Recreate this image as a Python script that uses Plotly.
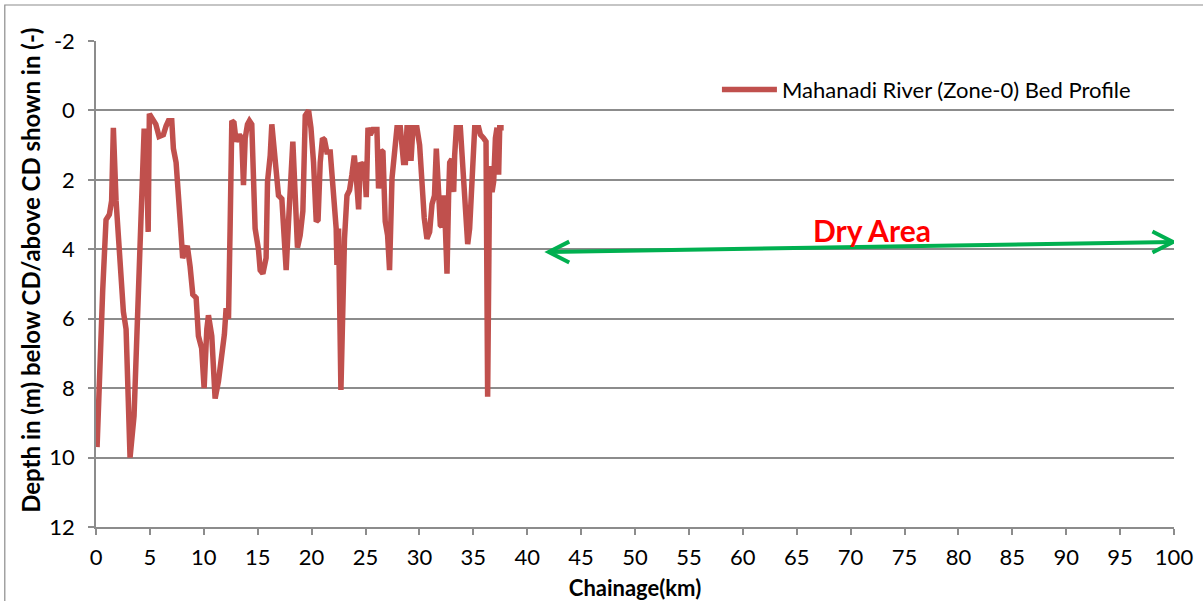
import plotly.graph_objects as go

# Bed profile of the Mahanadi River, Zone-0
chainage_km = [
    0.1, 0.37, 0.62, 0.93, 1.24, 1.45, 1.61, 1.86, 2.23, 2.54, 2.79, 3.16, 3.53, 3.78,
    4.02, 4.24, 4.46, 4.62, 4.84, 4.95, 5.32, 5.55, 5.85, 6.25, 6.5, 6.72, 7.03, 7.18,
    7.43, 7.64, 7.86, 8.04, 8.24, 8.47, 8.73, 8.98, 9.29, 9.5, 9.8, 10.03, 10.28, 10.43,
    10.74, 11.05, 11.36, 11.67, 11.91, 12.07, 12.29, 12.44, 12.6, 12.8, 13.0, 13.3,
    13.52, 13.68, 13.84, 14.05, 14.23, 14.45, 14.6, 14.76, 15.07, 15.23, 15.48, 15.78,
    15.91, 16.16, 16.31, 16.5, 16.78, 16.93, 17.24, 17.39, 17.64, 17.86, 18.01, 18.26,
    18.48, 18.69, 18.94, 19.19, 19.41, 19.72, 19.94, 20.18, 20.43, 20.6, 20.8, 21.01,
    21.2, 21.42, 21.73, 21.88, 22.1, 22.28, 22.35, 22.5, 22.72, 22.9, 23.05, 23.28,
    23.52, 23.74, 23.96, 24.15, 24.36, 24.51, 24.7, 24.88, 25.07, 25.23, 25.44, 25.69,
    26.06, 26.21, 26.43, 26.62, 26.83, 27.05, 27.23, 27.46, 27.67, 27.92, 28.23, 28.53,
    28.7, 28.85, 29.05, 29.22, 29.4, 29.77, 30.02, 30.24, 30.45, 30.7, 30.95, 31.17,
    31.4, 31.57, 31.78, 31.94, 32.09, 32.25, 32.4, 32.56, 32.71, 32.81, 33.0, 33.18,
    33.27, 33.43, 33.8, 34.04, 34.26, 34.48, 34.66, 34.79, 34.97, 35.13, 35.5, 35.66,
    35.96, 36.18, 36.33, 36.52, 36.74, 36.89, 37.05, 37.2, 37.35, 37.45, 37.82,
]
depth_m = [
    9.7, 7.05, 5.2, 3.15, 3.0, 2.6, 0.5, 2.6, 4.2, 5.8, 6.3, 10.0, 8.8, 6.8,
    4.4, 2.4, 0.6, 0.6, 3.5, 0.1, 0.3, 0.4, 0.75, 0.7, 0.45, 0.3, 0.3, 1.1,
    1.5, 2.7, 3.4, 4.25, 4.05, 3.9, 4.5, 5.3, 5.4, 6.5, 6.85, 8.0, 6.3, 5.9,
    6.5, 8.3, 7.8, 7.05, 6.45, 5.7, 6.0, 3.4, 0.3, 0.35, 0.9, 0.7,
    0.8, 2.15, 0.8, 0.4, 0.3, 0.4, 2.0, 3.4, 4.0, 4.6, 4.7, 4.25,
    2.05, 1.3, 0.4, 1.0, 1.75, 2.45, 2.55, 3.4, 4.6, 3.2, 2.4, 0.9,
    2.45, 3.95, 3.6, 2.9, 0.15, 0.0, 0.5, 1.5, 3.2, 3.15, 1.5, 0.8,
    0.85, 1.2, 1.2, 1.85, 2.45, 3.4, 4.45, 3.4, 8.05, 5.8, 3.7, 2.45,
    2.3, 1.85, 1.3, 1.95, 2.85, 1.5, 1.6, 1.5, 2.5, 0.5, 0.7, 0.55,
    0.55, 2.25, 1.15, 1.2, 3.2, 3.6, 4.6, 1.95, 1.1, 0.5, 0.5, 1.5,
    1.5, 0.5, 0.5, 1.45, 0.5, 0.5, 1.0, 2.45, 3.1, 3.7, 3.5, 2.7,
    2.45, 1.1, 2.45, 3.3, 3.35, 2.45, 3.3, 4.7, 2.45, 1.5, 1.4, 2.35,
    1.3, 0.5, 0.5, 1.5, 2.7, 3.85, 3.4, 2.45, 1.0, 0.5, 0.5, 0.7,
    0.8, 0.9, 8.25, 1.6, 2.35, 2.05, 0.8, 0.5, 1.85, 0.5, 0.5,
]

series_name = "Mahanadi River (Zone-0) Bed Profile"
x_ticks = list(range(0, 101, 5))
y_ticks = list(range(-2, 13, 2))
y_tick_text = [str(v) for v in y_ticks]  # plain hyphen for the negative label
y_title = "Depth in (m) below CD/above CD shown in (-)"
x_title = "Chainage(km)"

# Dry-area arrow endpoints (chainage km, depth m) and label position
dry_start = (42.0, 4.08)
dry_end = (99.9, 3.79)
dry_label = (72.0, 3.45)

LINE_RED = "#C0504D"
GREEN = "#00B050"
GRID = "#8C8C8C"
FONT = "Lato"

fig = go.Figure()
fig.add_trace(go.Scatter(
    x=chainage_km, y=depth_m, mode="lines", name=series_name,
    line=dict(color=LINE_RED, width=5.5),
))

# Green double-headed arrow with open chevron heads
head_dx, head_dy = 1.9, 0.3
shapes = [
    dict(type="line", xref="x", yref="y",
         x0=dry_start[0], y0=dry_start[1], x1=dry_end[0], y1=dry_end[1],
         line=dict(color=GREEN, width=4)),
    dict(type="path", xref="x", yref="y",
         path=(f"M {dry_start[0] + head_dx} {dry_start[1] - head_dy} "
               f"L {dry_start[0]} {dry_start[1]} "
               f"L {dry_start[0] + head_dx} {dry_start[1] + head_dy}"),
         line=dict(color=GREEN, width=4)),
    dict(type="path", xref="x", yref="y",
         path=(f"M {dry_end[0] - head_dx} {dry_end[1] - head_dy} "
               f"L {dry_end[0]} {dry_end[1]} "
               f"L {dry_end[0] - head_dx} {dry_end[1] + head_dy}"),
         line=dict(color=GREEN, width=4)),
    # outer chart border
    dict(type="rect", xref="paper", yref="paper",
         x0=-0.0846, x1=1.05, y0=-0.2, y1=1.0741,
         line=dict(color="#8C8C8C", width=1.2)),
]

fig.add_annotation(
    x=dry_label[0], y=dry_label[1], xref="x", yref="y", text="<b>Dry Area</b>",
    showarrow=False, font=dict(family=FONT, size=30, color="#FF0000"),
)
# vertical axis title, placed in the left margin
fig.add_annotation(
    x=-0.0604, y=0.529, xref="paper", yref="paper", text=f"<b>{y_title}</b>",
    textangle=-90, showarrow=False, xanchor="center", yanchor="middle",
    font=dict(family=FONT, size=24, color="black"),
)

fig.update_layout(
    width=1203, height=601,
    margin=dict(l=96, r=29, t=41, b=74),
    paper_bgcolor="white", plot_bgcolor="white",
    font=dict(family=FONT, size=22, color="black"),
    shapes=shapes,
    showlegend=True,
    legend=dict(x=0.576, y=0.9, xanchor="left", yanchor="middle",
                bgcolor="rgba(0,0,0,0)", itemwidth=55,
                font=dict(family=FONT, size=22, color="black")),
)

fig.update_xaxes(
    range=[0, 100], tickvals=x_ticks, showgrid=False, zeroline=False,
    showline=True, linecolor=GRID, linewidth=1.5,
    ticks="outside", ticklen=6, tickcolor=GRID, tickwidth=1.5,
    ticklabelstandoff=4, automargin=False,
    title=dict(text=f"<b>{x_title}</b>", font=dict(family=FONT, size=22), standoff=16),
)
fig.update_yaxes(
    range=[12, -2], tickvals=y_ticks, ticktext=y_tick_text,
    showgrid=True, gridcolor=GRID, gridwidth=1.5,
    zeroline=False, showline=True, linecolor=GRID, linewidth=1.5,
    ticks="outside", ticklen=6, tickcolor=GRID, tickwidth=1.5,
    ticklabelstandoff=9, automargin=False,
)

fig.write_html("out.html")
